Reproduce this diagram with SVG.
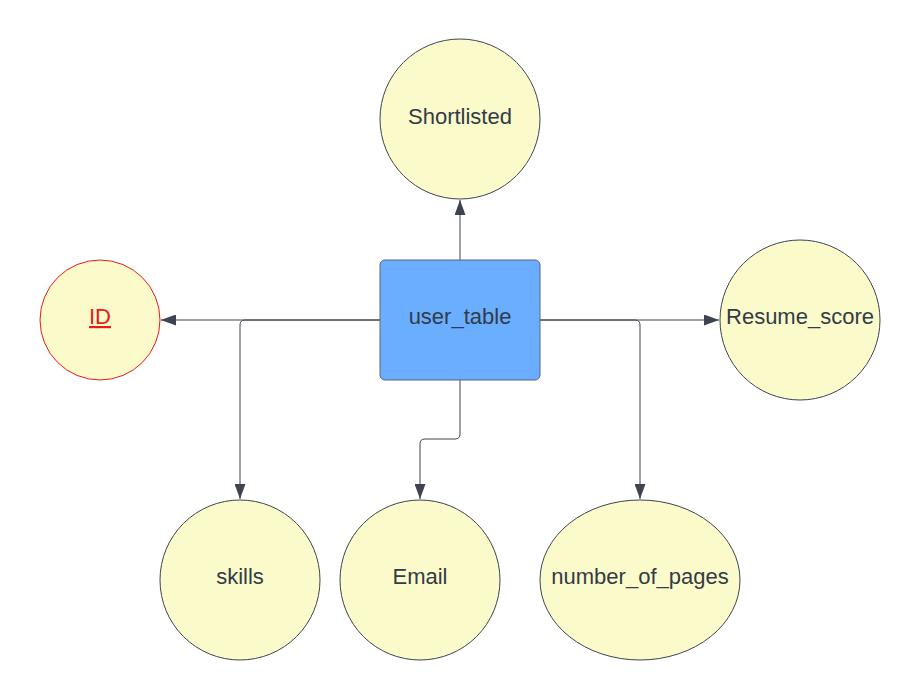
<svg xmlns="http://www.w3.org/2000/svg" width="920" height="700" viewBox="0 0 920 700">
<style>
.attr{fill:#fbfacb;stroke:#3d4450;stroke-width:1}
.key{fill:#fbfacb;stroke:#e81a1a;stroke-width:1}
.ent{fill:#6aaeff;stroke:#5e6573;stroke-width:1}
.lbl{font-family:"Liberation Sans",Arial,sans-serif;font-size:22px;fill:#333b47;text-anchor:middle}
.conn{fill:none;stroke:#3d4450;stroke-width:1}
</style>
<defs>
<marker id="arr" markerUnits="userSpaceOnUse" markerWidth="15" markerHeight="11" refX="15" refY="5.5" orient="auto">
<path d="M0,0 L15,5.5 L0,11 z" fill="#3d4450"/>
</marker>
</defs>
<rect width="920" height="700" fill="#ffffff"/>
<g id="connectors">
<path class="conn" d="M460,260 V200" marker-end="url(#arr)"/>
<path class="conn" d="M380,320 H161" marker-end="url(#arr)"/>
<path class="conn" d="M380,320 H245 Q240,320 240,325 V499" marker-end="url(#arr)"/>
<path class="conn" d="M460,380 V434 Q460,439 455,439 H425 Q420,439 420,444 V499" marker-end="url(#arr)"/>
<path class="conn" d="M540,320 H719" marker-end="url(#arr)"/>
<path class="conn" d="M540,320 H635 Q640,320 640,325 V499" marker-end="url(#arr)"/>
</g>
<g id="user_table">
<rect class="ent" x="380" y="260" width="160" height="120" rx="5"/>
<text class="lbl" x="460" y="324">user_table</text>
</g>
<g id="shortlisted">
<circle class="attr" cx="460" cy="119" r="80"/>
<text class="lbl" x="460" y="124">Shortlisted</text>
</g>
<g id="id">
<circle class="key" cx="100" cy="320" r="60"/>
<text class="lbl" x="100" y="324" style="fill:#e81a1a" text-decoration="underline">ID</text>
</g>
<g id="resume_score">
<circle class="attr" cx="800" cy="320" r="80"/>
<text class="lbl" x="800" y="324" textLength="148" lengthAdjust="spacingAndGlyphs">Resume_score</text>
</g>
<g id="skills">
<circle class="attr" cx="240" cy="580" r="80"/>
<text class="lbl" x="240" y="584">skills</text>
</g>
<g id="email">
<circle class="attr" cx="420" cy="580" r="80"/>
<text class="lbl" x="420" y="584">Email</text>
</g>
<g id="number_of_pages">
<ellipse class="attr" cx="640" cy="580" rx="100" ry="80"/>
<text class="lbl" x="640" y="584">number_of_pages</text>
</g>
</svg>
